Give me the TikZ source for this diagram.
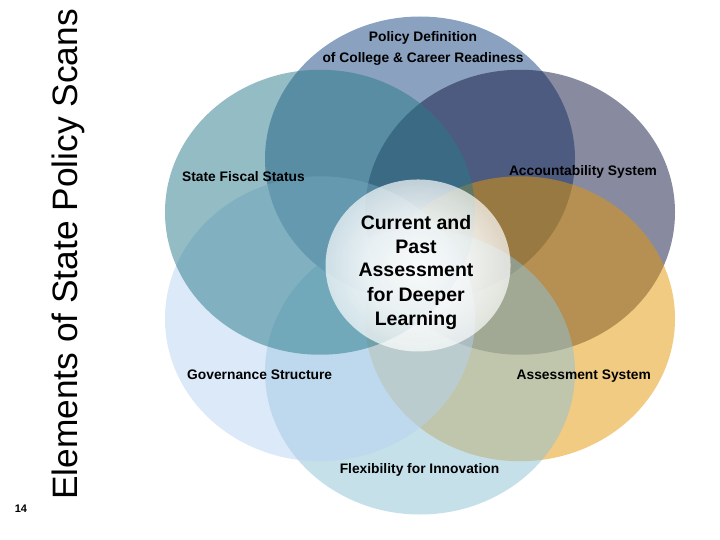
\documentclass[tikz,border=0pt]{standalone}
\usepackage{fontspec}
\setmainfont{Liberation Sans}
\usetikzlibrary{fadings}
\definecolor{cTop}{RGB}{21,67,129}
\definecolor{cUR}{RGB}{17,23,65}
\definecolor{cUL}{RGB}{41,121,137}
\definecolor{cLL}{RGB}{183,211,241}
\definecolor{cBot}{RGB}{141,193,213}
\definecolor{cLR}{RGB}{229,151,5}
\pgfdeclareradialshading{glowshade}{\pgfpoint{0bp}{0bp}}{rgb(0bp)=(0.96,0.96,0.96); rgb(14bp)=(0.86,0.86,0.86); rgb(30bp)=(0.6,0.6,0.6); rgb(50bp)=(0.32,0.32,0.32)}
\pgfdeclarefading{glow}{\pgfuseshading{glowshade}}
\begin{document}
\begin{tikzpicture}[x=1pt,y=-1pt,
  petal/.style={fill opacity=0.5, draw=none},
  lbl/.style={font=\fontsize{13.8}{16}\selectfont\bfseries, inner sep=0pt, anchor=base},
  ctr/.style={font=\fontsize{19.5}{24}\selectfont\bfseries, align=center, inner sep=0pt}]
\useasboundingbox (0,0) rectangle (720,540);
% petals, drawn in stacking order
\fill[petal, cTop] (420,159) ellipse [x radius=155, y radius=142.5];
\fill[petal, cUR]  (520,212.25) ellipse [x radius=155, y radius=142.5];
\fill[petal, cLR]  (520,318.75) ellipse [x radius=155, y radius=142.5];
\fill[petal, cBot] (420,372) ellipse [x radius=155, y radius=142.5];
\fill[petal, cLL]  (320,318.75) ellipse [x radius=155, y radius=142.5];
\fill[petal, cUL]  (320,212.25) ellipse [x radius=155, y radius=142.5];
% central glow
\fill[white, path fading=glow] (418,265.5) ellipse [x radius=92.5, y radius=86];
% labels
\node[lbl] (pol1) at (423,42) {Policy Definition};
\node[lbl] (pol2) at (423,63) {of College \& Career Readiness};
\node[lbl] (fis) at (243.5,181.5) {State Fiscal Status};
\node[lbl] (acc) at (583,175.7) {Accountability System};
\node[lbl] (gov) at (259.7,379.3) {Governance Structure};
\node[lbl] (ass) at (583.8,379) {Assessment System};
\node[lbl] (flx) at (419.5,473.8) {Flexibility for Innovation};
\node[ctr] (core) at (416,272) {Current and\\Past\\Assessment\\for Deeper\\Learning};
% slide furniture
\node[font=\fontsize{35.3}{40}\selectfont, rotate=90, anchor=base west, inner sep=0pt] (title) at (77,500) {Elements of State Policy Scans};
\node[font=\fontsize{11}{13}\selectfont\bfseries, inner sep=0pt, anchor=base] (pg) at (21,512) {14};
\end{tikzpicture}
\end{document}
